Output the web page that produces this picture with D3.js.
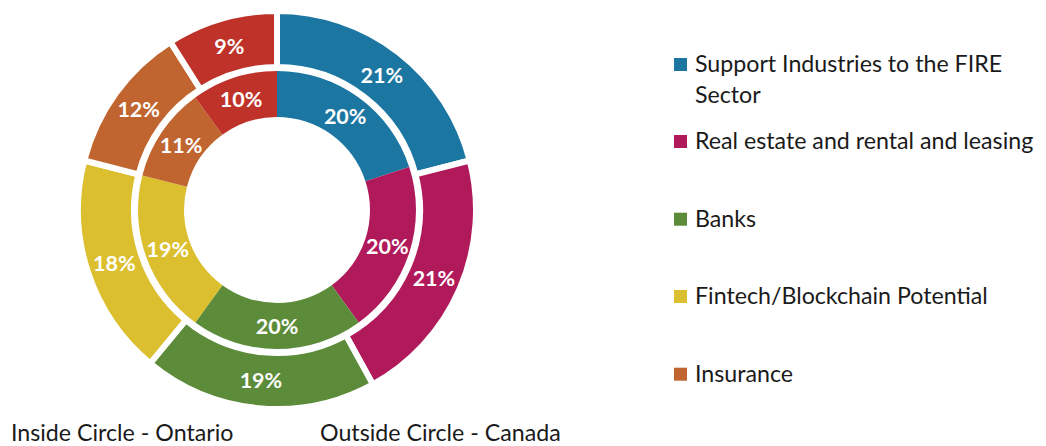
<!DOCTYPE html>
<html>
<head>
<meta charset="utf-8">
<script src="https://cdn.jsdelivr.net/npm/d3@7"></script>
<style>
  html, body { margin: 0; padding: 0; background: #fff; }
  svg { display: block; }
</style>
</head>
<body>
<svg id="chart" width="1046" height="446"></svg>
<script>
// Sector shares, clockwise from 12 o'clock
const categories = [
  "Support Industries to the FIRE Sector",
  "Real estate and rental and leasing",
  "Banks",
  "Fintech/Blockchain Potential",
  "Insurance",
  "Other"
];
const canadaValues  = [21, 21, 19, 18, 12, 9];   // outside ring
const ontarioValues = [20, 20, 20, 19, 11, 10];  // inside ring
const sliceColors = ["#1b76a1", "#b0195a", "#5c8b3a", "#dcbf2f", "#c0652f", "#bf3229"];
const legendItems = [
  ["Support Industries to the FIRE", "Sector"],
  ["Real estate and rental and leasing"],
  ["Banks"],
  ["Fintech/Blockchain Potential"],
  ["Insurance"]
];
const ringCaptions = ["Inside Circle - Ontario", "Outside Circle - Canada"];

const svg = d3.select("#chart");
const cx = 277, cy = 210;

const color = d3.scaleOrdinal().domain(categories).range(sliceColors);
const pie = d3.pie().sort(null).value(d => d.value);

function ringData(values) {
  return pie(values.map((v, i) => ({ cat: categories[i], value: v })));
}

const g = svg.append("g").attr("transform", `translate(${cx},${cy})`);

// Inside ring (Ontario): segments touch
const innerArc = d3.arc().innerRadius(93).outerRadius(139);
const innerRing = g.append("g");
innerRing.selectAll("path")
  .data(ringData(ontarioValues))
  .join("path")
  .attr("d", innerArc)
  .attr("fill", d => color(d.data.cat));

// Outside ring (Canada): separated by white gaps
const outerArc = d3.arc().innerRadius(143).outerRadius(199);
const outerRing = g.append("g");
outerRing.selectAll("path")
  .data(ringData(canadaValues))
  .join("path")
  .attr("d", outerArc)
  .attr("fill", d => color(d.data.cat))
  .attr("stroke", "#fff")
  .attr("stroke-width", 6)
  .attr("stroke-linejoin", "miter");

// Value labels at each segment centroid
const labelFont = "Lato, 'Open Sans', sans-serif";
function addLabels(sel, data, arc) {
  sel.selectAll("text")
    .data(data)
    .join("text")
    .attr("transform", d => `translate(${arc.centroid(d)})`)
    .attr("text-anchor", "middle")
    .attr("dy", "0.36em")
    .attr("fill", "#fff")
    .attr("font-family", labelFont)
    .attr("font-weight", 700)
    .attr("font-size", 21.5)
    .text(d => d.data.value + "%");
}
addLabels(innerRing, ringData(ontarioValues), d3.arc().innerRadius(93).outerRadius(139));
addLabels(outerRing, ringData(canadaValues), d3.arc().innerRadius(146).outerRadius(196));

// Legend
const legendBaselines = [72, 149, 226.7, 304, 381.7];
const legend = svg.append("g");
legendItems.forEach((lines, i) => {
  const y = legendBaselines[i];
  legend.append("rect")
    .attr("x", 674).attr("y", y - 14)
    .attr("width", 13).attr("height", 13)
    .attr("fill", sliceColors[i]);
  const t = legend.append("text")
    .attr("x", 695).attr("y", y)
    .attr("fill", "#1a1a1a")
    .attr("font-family", labelFont)
    .attr("font-size", 23.2);
  lines.forEach((ln, j) => {
    t.append("tspan").attr("x", 695).attr("dy", j === 0 ? 0 : 31).text(ln);
  });
});

// Ring captions along the bottom edge
svg.append("text")
  .attr("x", 11).attr("y", 440.5)
  .attr("fill", "#1a1a1a")
  .attr("font-family", labelFont).attr("font-size", 23.2)
  .text(ringCaptions[0]);
svg.append("text")
  .attr("x", 320).attr("y", 440.5)
  .attr("fill", "#1a1a1a")
  .attr("font-family", labelFont).attr("font-size", 23.2)
  .text(ringCaptions[1]);
</script>
</body>
</html>
